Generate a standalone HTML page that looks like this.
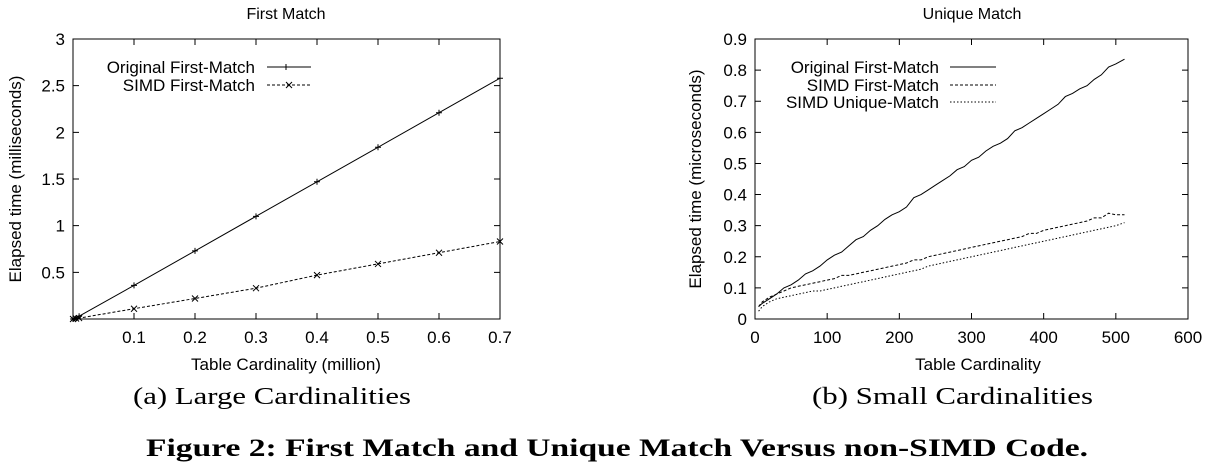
<!DOCTYPE html>
<html><head><meta charset="utf-8"><style>
html,body{margin:0;padding:0;background:#fff;}
svg{display:block;}
.t{font-family:"Liberation Sans",sans-serif;fill:#000;}
.s{font-family:"Liberation Serif",serif;fill:#000;}
</style></head><body>
<svg id="fig" width="1213" height="467" viewBox="0 0 1213 467" xmlns="http://www.w3.org/2000/svg">
<g id="left"></g>
<g id="right"></g>
<text class="s" x="133" y="404" font-size="24" textLength="278" lengthAdjust="spacingAndGlyphs">(a) Large Cardinalities</text>
<text class="s" x="812" y="404" font-size="24" textLength="281" lengthAdjust="spacingAndGlyphs">(b) Small Cardinalities</text>
<text class="s" x="146" y="456" font-size="25" font-weight="bold" textLength="942" lengthAdjust="spacingAndGlyphs">Figure 2: First Match and Unique Match Versus non-SIMD Code.</text>
</svg>
<script>
const leftX=[0,0.005,0.01,0.1,0.2,0.3,0.4,0.5,0.6,0.7];
const leftOrig=[0,0.01,0.03,0.36,0.73,1.1,1.47,1.84,2.21,2.58];
const leftSimd=[0,0.005,0.01,0.11,0.22,0.33,0.47,0.59,0.71,0.83];
const leftXTicks=[0.1,0.2,0.3,0.4,0.5,0.6,0.7];
const leftYTicks=[0.5,1,1.5,2,2.5,3];

const rightX=[5,10,20,30,40,50,60,70,80,90,100,110,120,130,140,150,160,170,180,190,200,210,220,230,240,250,260,270,280,290,300,310,320,330,340,350,360,370,380,390,400,410,420,430,440,450,460,470,480,490,500,512];
const rightOrig=[0.04,0.05,0.065,0.08,0.1,0.11,0.125,0.145,0.155,0.17,0.19,0.205,0.215,0.235,0.255,0.265,0.285,0.3,0.32,0.335,0.345,0.36,0.39,0.4,0.415,0.43,0.445,0.46,0.48,0.49,0.51,0.52,0.54,0.555,0.565,0.58,0.605,0.615,0.63,0.645,0.66,0.675,0.69,0.715,0.725,0.74,0.75,0.77,0.785,0.81,0.82,0.835];
const rightSimdFM=[0.04,0.055,0.07,0.08,0.09,0.1,0.105,0.11,0.115,0.12,0.125,0.13,0.14,0.14,0.145,0.15,0.155,0.16,0.165,0.17,0.175,0.18,0.19,0.19,0.2,0.205,0.21,0.215,0.22,0.225,0.23,0.235,0.24,0.245,0.25,0.255,0.26,0.265,0.275,0.275,0.285,0.29,0.295,0.3,0.305,0.31,0.315,0.325,0.325,0.34,0.335,0.335];
const rightSimdUM=[0.025,0.04,0.055,0.065,0.07,0.075,0.08,0.085,0.09,0.09,0.095,0.1,0.105,0.11,0.115,0.12,0.125,0.13,0.135,0.14,0.145,0.15,0.155,0.16,0.17,0.175,0.18,0.185,0.19,0.195,0.2,0.205,0.21,0.215,0.22,0.225,0.23,0.235,0.24,0.245,0.25,0.255,0.26,0.265,0.27,0.275,0.28,0.285,0.29,0.295,0.3,0.31];
const rightXTicks=[0,100,200,300,400,500,600];
const rightYTicks=[0,0.1,0.2,0.3,0.4,0.5,0.6,0.7,0.8,0.9];

const NS='http://www.w3.org/2000/svg';
function mk(tag,attrs,parent){const e=document.createElementNS(NS,tag);for(const k in attrs)e.setAttribute(k,attrs[k]);parent.appendChild(e);return e;}
function txt(parent,x,y,s,size,anchor){const e=mk('text',{x:x,y:y,'font-size':size,'text-anchor':anchor||'middle',class:'t'},parent);e.textContent=s;return e;}

function axes(g,L,R,T,B,xmin,xmax,ymin,ymax){
  return {sx:v=>L+(v-xmin)/(xmax-xmin)*(R-L), sy:v=>B-(v-ymin)/(ymax-ymin)*(B-T)};
}
function frame(g,L,R,T,B){
  const r=mk('rect',{x:L,y:T,width:R-L,height:B-T,fill:'none',stroke:'#000','stroke-width':1},g);
  
  
}
function line(g,xs,ys,ax,dash,name){
  const d=xs.map((x,i)=>(i?'L':'M')+ax.sx(x).toFixed(1)+','+ax.sy(ys[i]).toFixed(1)).join('');
  const p=mk('path',{d:d,fill:'none',stroke:'#000','stroke-width':1,'stroke-dasharray':dash||'none'},g);
  
  
}
function marks(g,xs,ys,ax,type,name){
  xs.forEach((x,i)=>{const cx=ax.sx(x),cy=ax.sy(ys[i]);
    const d=type==='+'?`M${cx-3},${cy}L${cx+3},${cy}M${cx},${cy-3}L${cx},${cy+3}`:`M${cx-3},${cy-3}L${cx+3},${cy+3}M${cx-3},${cy+3}L${cx+3},${cy-3}`;
    const p=mk('path',{d:d,stroke:'#000','stroke-width':1},g);
    
    
  });
}
const FS=17;
// Left
(function(){
  const g=document.getElementById('left');const L=73,R=500,T=39,B=319;
  const ax=axes(g,L,R,T,B,0,0.7,0,3);
  frame(g,L,R,T,B);
  leftXTicks.forEach(v=>{const x=ax.sx(v);mk('path',{d:`M${x},${B}V${B-6}M${x},${T}V${T+6}`,stroke:'#000'},g);const t=txt(g,x,343,String(v),FS);});
  leftYTicks.forEach(v=>{const y=ax.sy(v);mk('path',{d:`M${L},${y}H${L+6}M${R},${y}H${R-6}`,stroke:'#000'},g);const t=txt(g,L-8,y+6,String(v),FS,'end');});
  let t=txt(g,286,19,'First Match',16);
  t=txt(g,286,370,'Table Cardinality (million)',FS);
  t=txt(g,0,0,'Elapsed time (milliseconds)',FS);t.setAttribute('transform','translate(21,179) rotate(-90)');
  line(g,leftX,leftOrig,ax,null,'series-original-first-match');
  marks(g,leftX,leftOrig,ax,'+','marker-original');
  line(g,leftX,leftSimd,ax,'3,2','series-simd-first-match');
  marks(g,leftX,leftSimd,ax,'x','marker-simd');
  t=txt(g,255,73,'Original First-Match',FS,'end');
  t=txt(g,255,91,'SIMD First-Match',FS,'end');
  mk('path',{d:'M267,67H311',stroke:'#000'},g);mk('path',{d:'M286,64V70M283,67H289',stroke:'#000'},g);
  mk('path',{d:'M267,85H311',stroke:'#000','stroke-dasharray':'3,2'},g);mk('path',{d:'M286,82L292,88M286,88L292,82',stroke:'#000'},g);
})();

// Right
(function(){
  const g=document.getElementById('right');const L=755,R=1188,T=39,B=319;
  const ax=axes(g,L,R,T,B,0,600,0,0.9);
  frame(g,L,R,T,B);
  rightXTicks.forEach(v=>{const x=ax.sx(v);mk('path',{d:`M${x},${B}V${B-6}M${x},${T}V${T+6}`,stroke:'#000'},g);const t=txt(g,x,343,String(v),FS);});
  rightYTicks.forEach(v=>{const y=ax.sy(v);mk('path',{d:`M${L},${y}H${L+6}M${R},${y}H${R-6}`,stroke:'#000'},g);const t=txt(g,L-8,y+6,String(v),FS,'end');});
  let t=txt(g,972,19,'Unique Match',16);
  t=txt(g,978,370,'Table Cardinality',FS);
  t=txt(g,0,0,'Elapsed time (microseconds)',FS);t.setAttribute('transform','translate(701,179) rotate(-90)');
  line(g,rightX,rightOrig,ax,null,'series-original-first-match');
  line(g,rightX,rightSimdFM,ax,'3,2','series-simd-first-match');
  line(g,rightX,rightSimdUM,ax,'1.5,2','series-simd-unique-match');
  t=txt(g,939,73,'Original First-Match',FS,'end');
  t=txt(g,939,91,'SIMD First-Match',FS,'end');
  t=txt(g,939,108,'SIMD Unique-Match',FS,'end');
  mk('path',{d:'M950,67H996',stroke:'#000'},g);
  mk('path',{d:'M950,85H996',stroke:'#000','stroke-dasharray':'3,2'},g);
  mk('path',{d:'M950,102H996',stroke:'#000','stroke-dasharray':'1.5,2'},g);
})();
</script>
</body></html>
